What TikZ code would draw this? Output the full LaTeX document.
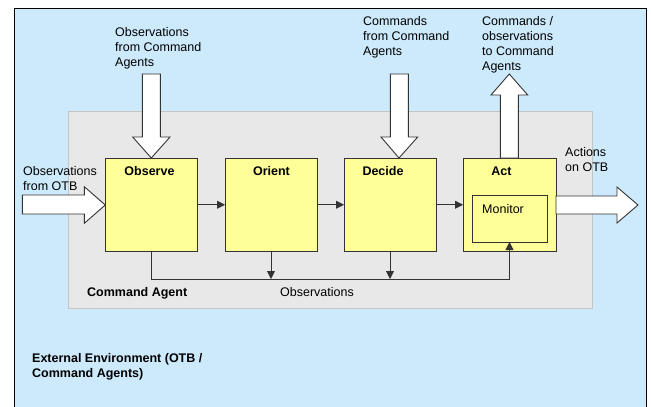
\documentclass[tikz,border=0pt]{standalone}
\usepackage{fontspec}
\setmainfont{Liberation Sans}
\usetikzlibrary{arrows.meta}
\definecolor{envblue}{HTML}{CCEAFB}
\definecolor{agentgray}{HTML}{E8E8E8}
\definecolor{agentedge}{HTML}{C4C4C4}
\definecolor{boxyellow}{HTML}{FFFF99}
\definecolor{ink}{HTML}{333333}
\tikzset{
  txt/.style={inner sep=0pt, align=left, anchor=north west, font=\fontsize{12.5}{15}\selectfont, text=black},
  bold/.style={inner sep=0pt, anchor=base, font=\fontsize{12.5}{15}\selectfont\bfseries, text=black},
  stage/.style={draw=ink, fill=boxyellow, line width=0.9pt, inner sep=0pt, outer sep=0pt, minimum width=92pt, minimum height=93.5pt},
  conn/.style={draw=ink, line width=0.9pt},
  tip/.style={-{Triangle[length=8pt,width=8pt]}},
  blockarrow/.style={draw=ink, fill=white, line width=0.9pt, line join=miter}
}
\begin{document}
\begin{tikzpicture}[x=1pt,y=-1pt]
\useasboundingbox (0,0) rectangle (651,407);
% environment
\path[fill=envblue, draw=black, line width=0.8pt] (14,8) rectangle (646,420);
% command agent
\path[fill=agentgray, draw=agentedge, line width=1pt] (68,111) rectangle (592,308);
% stages
\node[stage] (obs) at (151,204.75) {};
\node[stage] (ori) at (271,204.75) {};
\node[stage] (dec) at (390,204.75) {};
\node[stage, minimum width=93pt] (act) at (509.5,204.75) {};
\node[stage, minimum width=75pt, minimum height=47pt] (mon) at (509.5,218.5) {};
\coordinate (bus) at (0,279);
% connectors
\draw[conn,tip] (obs.east) -- (ori.west);
\draw[conn,tip] (ori.east) -- (dec.west);
\draw[conn,tip] (dec.east) -- (act.west);
\draw[conn,tip] (obs.south) -- (obs.south |- bus) -- (mon.south |- bus) -- (mon.south);
\draw[conn,tip] (ori.south) -- (ori.south |- bus);
\draw[conn,tip] (dec.south) -- (dec.south |- bus);
% block arrows
\path[blockarrow] (142.3,74) -- (160.3,74) -- (160.3,137) -- (170,137) -- (151.3,158) -- (132.7,137) -- (142.3,137) -- cycle;
\path[blockarrow] (390.3,74) -- (408.3,74) -- (408.3,137) -- (417.7,137) -- (399,158) -- (381,137) -- (390.3,137) -- cycle;
\path[blockarrow] (500.3,158) -- (500.3,95) -- (491,95) -- (509.3,74) -- (527.7,95) -- (518.3,95) -- (518.3,158) -- cycle;
\path[blockarrow] (22.3,195) -- (84.3,195) -- (84.3,186.7) -- (105.3,205) -- (84.3,223.3) -- (84.3,214) -- (22.3,214) -- cycle;
\path[blockarrow] (556,196) -- (617,196) -- (617,187) -- (638,205) -- (617,223) -- (617,214) -- (556,214) -- cycle;
% titles
\node[bold] (tObs) at (149.5,175.5) {Observe};
\node[bold] (tOri) at (271.5,175.5) {Orient};
\node[bold] (tDec) at (383,175.5) {Decide};
\node[bold] (tAct) at (501.5,175.5) {Act};
\node[txt, anchor=base west] (tMon) at (482,213) {Monitor};
% labels
\node[txt] (l1) at (115,26.9) {Observations\\from Command\\Agents};
\node[txt] (l2) at (363,16.4) {Commands\\from Command\\Agents};
\node[txt] (l3) at (482,16.4) {Commands /\\observations\\to Command\\Agents};
\node[txt] (l4) at (23,166.4) {Observations\\from OTB};
\node[txt] (l5) at (565,146.9) {Actions\\on OTB};
\node[bold, anchor=base west] (l6) at (87,296.7) {Command Agent};
\node[txt, anchor=base west] (l7) at (280,296.7) {Observations};
\node[bold, anchor=north west, align=left] (l8) at (32,352.9) {External Environment (OTB /\\Command Agents)};
\end{tikzpicture}
\end{document}
